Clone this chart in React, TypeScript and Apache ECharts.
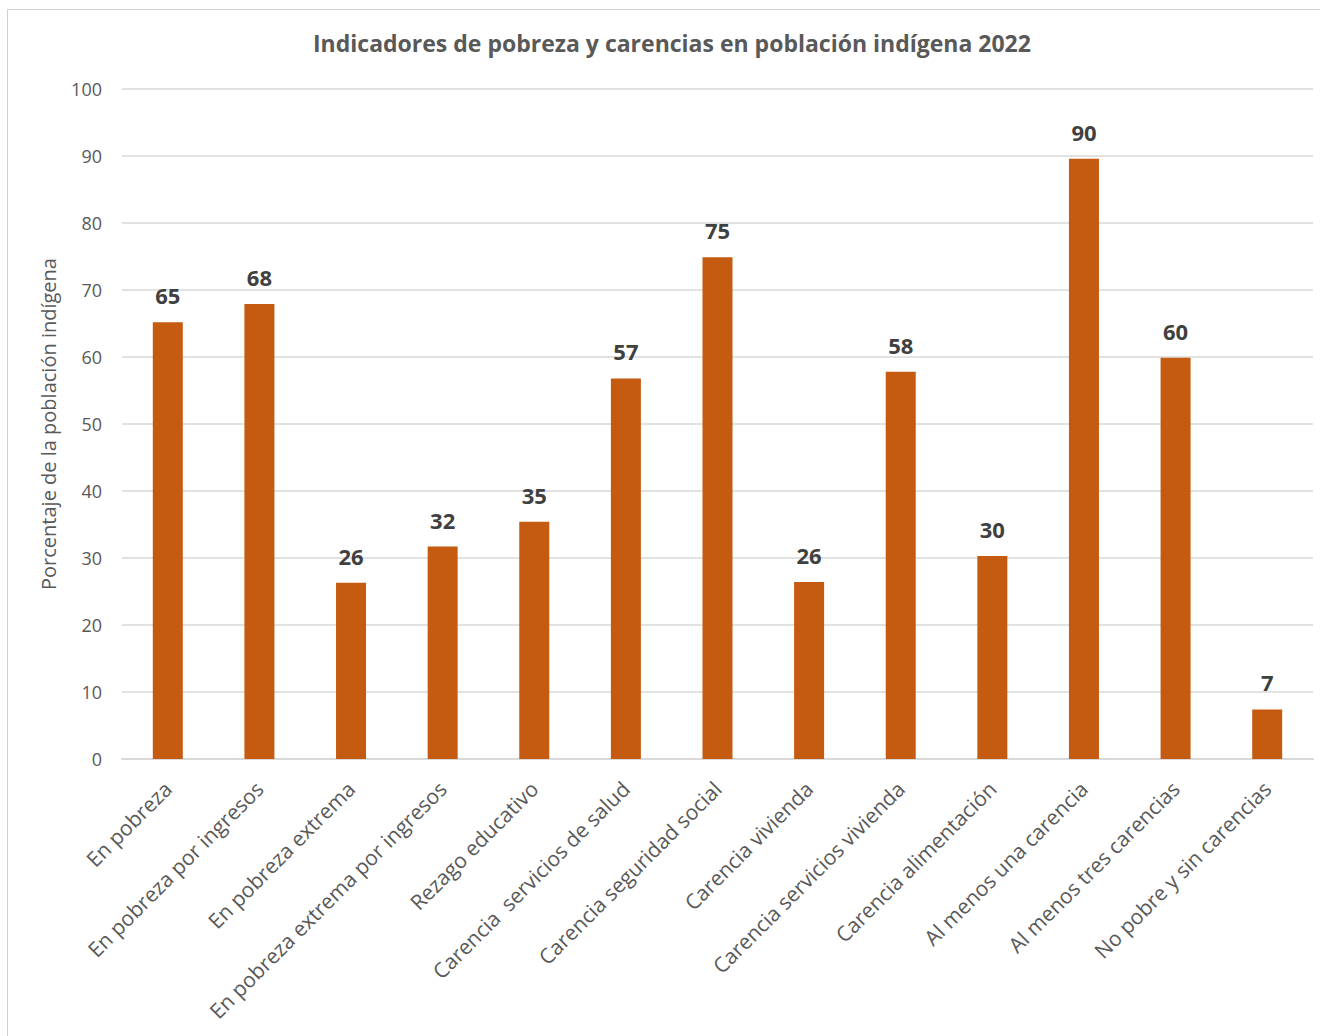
import React, { useEffect, useRef } from "react";
import * as echarts from "echarts";

const categories = [
  "En pobreza",
  "En pobreza por ingresos",
  "En pobreza extrema",
  "En pobreza extrema por ingresos",
  "Rezago educativo",
  "Carencia  servicios de salud",
  "Carencia seguridad social",
  "Carencia vivienda",
  "Carencia servicios vivienda",
  "Carencia alimentación",
  "Al menos una carencia",
  "Al menos tres carencias",
  "No pobre y sin carencias",
];
const values = [65.2, 67.9, 26.3, 31.7, 35.4, 56.8, 74.9, 26.4, 57.8, 30.3, 89.6, 59.9, 7.4];
const yTicks = { min: 0, max: 100, interval: 10 };
const titleText = "Indicadores de pobreza y carencias en población indígena 2022";
const yAxisName = "Porcentaje de la población indígena";

const FONT = "'Open Sans', 'Noto Sans', sans-serif";

export default function App() {
  const ref = useRef<HTMLDivElement>(null);
  useEffect(() => {
    document.body.style.overflow = "hidden";
    const chart = echarts.init(ref.current!, null, { renderer: "svg" });
    chart.setOption({
      animation: false,
      backgroundColor: "#ffffff",
      title: {
        text: titleText,
        left: 308,
        top: 26,
        textStyle: { fontFamily: FONT, fontSize: 23, fontWeight: "bold", color: "#595959" },
      },
      graphic: [
        {
          type: "rect",
          shape: { x: 7.5, y: 9.5, width: 1330, height: 1100 },
          style: { fill: "none", stroke: "#d0d0d0", lineWidth: 1 },
          silent: true,
        },
      ],
      grid: { left: 122, right: 7, top: 89, bottom: 277, containLabel: false },
      xAxis: {
        type: "category",
        data: categories,
        axisLine: { lineStyle: { color: "#d9d9d9", width: 2 } },
        axisTick: { show: false },
        axisLabel: {
          rotate: 45,
          interval: 0,
          margin: 26,
          fontFamily: FONT,
          fontSize: 21,
          color: "#595959",
        },
      },
      yAxis: {
        type: "value",
        min: yTicks.min,
        max: yTicks.max,
        interval: yTicks.interval,
        name: yAxisName,
        nameLocation: "middle",
        nameRotate: 90,
        nameGap: 64,
        nameTextStyle: { fontFamily: FONT, fontSize: 20, color: "#595959" },
        axisLine: { show: false },
        axisTick: { show: false },
        axisLabel: { fontFamily: FONT, fontSize: 18, color: "#595959", margin: 20 },
        splitLine: { lineStyle: { color: "#d9d9d9", width: 1.5 } },
      },
      series: [
        {
          type: "bar",
          data: values,
          barWidth: 30,
          itemStyle: { color: "#C55A11" },
          label: {
            show: true,
            position: "top",
            distance: 16,
            fontFamily: FONT,
            fontSize: 22,
            fontWeight: "bold",
            color: "#404040",
            formatter: (p: any) => String(Math.round(p.value)),
          },
        },
      ],
    });
    return () => chart.dispose();
  }, []);
  return (
    <div
      ref={ref}
      style={{ position: "absolute", left: 0, top: 0, width: 1320, height: 1036 }}
    />
  );
}
